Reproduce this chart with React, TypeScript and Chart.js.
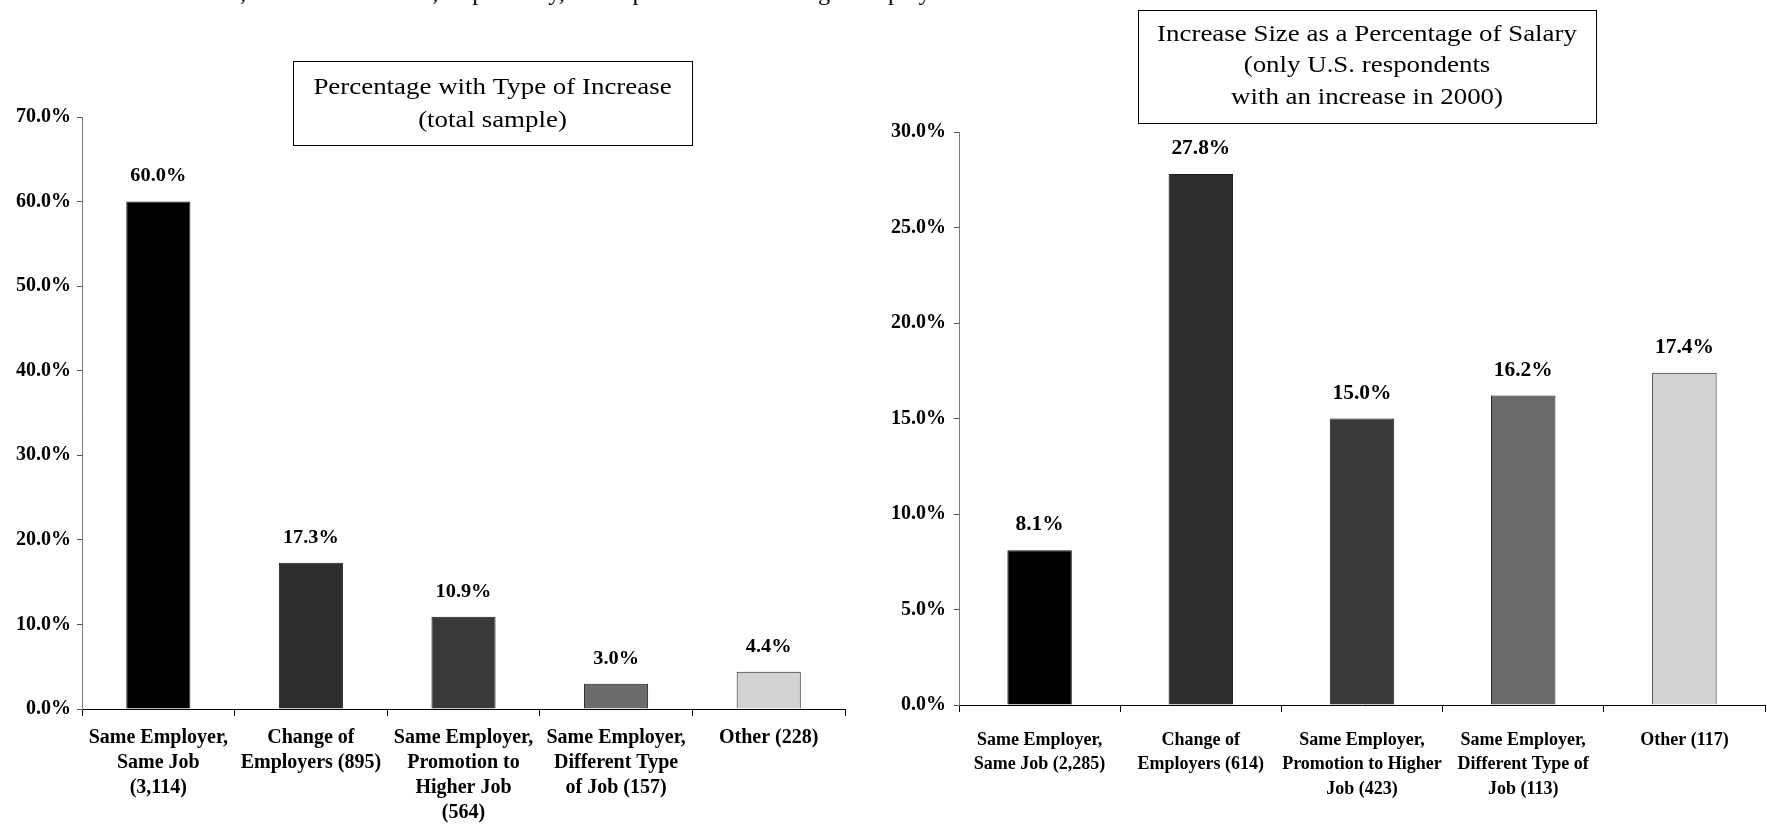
import React, { useEffect, useRef } from "react";
import { Chart, registerables } from "chart.js";

Chart.register(...registerables);

const leftCategories: string[][] = [
  ["Same Employer,", "Same Job", "(3,114)"],
  ["Change of", "Employers (895)"],
  ["Same Employer,", "Promotion to", "Higher Job", "(564)"],
  ["Same Employer,", "Different Type", "of Job (157)"],
  ["Other (228)"],
];
const leftValues: number[] = [60.0, 17.3, 10.9, 3.0, 4.4];
const leftTitle: string[] = ["Percentage with Type of Increase", "(total sample)"];

const rightCategories: string[][] = [
  ["Same Employer,", "Same Job (2,285)"],
  ["Change of", "Employers (614)"],
  ["Same Employer,", "Promotion to Higher", "Job (423)"],
  ["Same Employer,", "Different Type of", "Job (113)"],
  ["Other (117)"],
];
const rightValues: number[] = [8.1, 27.8, 15.0, 16.2, 17.4];
const rightTitle: string[] = [
  "Increase Size as a Percentage of Salary",
  "(only U.S. respondents",
  "with an increase in 2000)",
];

const barColors: string[] = ["#000000", "#2d2d2d", "#3a3a3a", "#6b6b6b", "#d2d2d2"];

const topText =
  "were 4.2% effective, and 5.1% effective, respectively, for respondents who changed employers in 2000.";

const SERIF = "'Liberation Serif', 'Times New Roman', serif";

type BoxOpts = { x: number; y: number; w: number; h: number; lines: string[]; lineYs: number[] };

function stretchedText(ctx: any, text: string, x: number, y: number, sx: number) {
  ctx.save();
  ctx.translate(x, y);
  ctx.scale(sx, 1);
  ctx.fillText(text, 0, 0);
  ctx.restore();
}

function makePlugins(box: BoxOpts, labelOffset: number, labelFont: number) {
  return [
    {
      id: "valueLabels",
      afterDatasetsDraw(chart: any) {
        const ctx = chart.ctx;
        const meta = chart.getDatasetMeta(0);
        const data = chart.data.datasets[0].data as number[];
        ctx.save();
        ctx.font = `bold ${labelFont}px ${SERIF}`;
        ctx.fillStyle = "#000";
        ctx.textAlign = "center";
        ctx.textBaseline = "middle";
        meta.data.forEach((el: any, i: number) => {
          stretchedText(ctx, data[i].toFixed(1) + "%", el.x, el.y - labelOffset, 1.07);
        });
        ctx.restore();
      },
    },
    {
      id: "titleBox",
      afterDraw(chart: any) {
        const ctx = chart.ctx;
        ctx.save();
        ctx.fillStyle = "#fff";
        ctx.fillRect(box.x, box.y, box.w, box.h);
        ctx.strokeStyle = "#000";
        ctx.lineWidth = 1;
        ctx.strokeRect(box.x + 0.5, box.y + 0.5, box.w, box.h);
        ctx.font = `23px ${SERIF}`;
        ctx.fillStyle = "#000";
        ctx.textAlign = "center";
        ctx.textBaseline = "middle";
        box.lines.forEach((l, i) => {
          stretchedText(ctx, l, box.x + box.w / 2, box.lineYs[i], 1.17);
        });
        ctx.restore();
      },
    },
  ];
}

function BarChart(props: {
  left: number;
  width: number;
  height: number;
  categories: string[][];
  values: number[];
  max: number;
  step: number;
  yAxisWidth: number;
  xAxisHeight: number;
  padTop: number;
  padRight: number;
  barPct: number;
  xFont: number;
  xLineHeight: number;
  xPadding: number;
  yFont: number;
  yPadding: number;
  box: BoxOpts;
  labelOffset: number;
  labelFont: number;
}) {
  const ref = useRef<HTMLCanvasElement>(null);
  useEffect(() => {
    if (!ref.current) return;
    const chart = new Chart(ref.current, {
      type: "bar",
      data: {
        labels: props.categories as any,
        datasets: [
          {
            data: props.values,
            backgroundColor: barColors,
            borderColor: "#1a1a1a",
            borderWidth: 1,
            barPercentage: props.barPct,
            categoryPercentage: 1,
          },
        ],
      },
      options: {
        animation: false,
        responsive: true,
        maintainAspectRatio: false,
        layout: { padding: { top: props.padTop, right: props.padRight, left: 0, bottom: 0 } },
        plugins: { legend: { display: false }, tooltip: { enabled: false }, title: { display: false } },
        scales: {
          x: {
            type: "category",
            offset: true,
            grid: {
              offset: true,
              drawOnChartArea: false,
              drawTicks: true,
              tickLength: 7,
              color: "#000",
            },
            border: { color: "#000", width: 1 },
            ticks: {
              autoSkip: false,
              maxRotation: 0,
              minRotation: 0,
              color: "#000",
              padding: props.xPadding,
              font: { family: SERIF, size: props.xFont, weight: "bold", lineHeight: props.xLineHeight },
            },
            afterFit: (s: any) => {
              s.height = props.xAxisHeight;
            },
          },
          y: {
            min: 0,
            max: props.max,
            grid: {
              drawOnChartArea: false,
              drawTicks: true,
              tickLength: 5,
              color: "#555",
            },
            border: { color: "#777", width: 1 },
            ticks: {
              stepSize: props.step,
              color: "#000",
              padding: props.yPadding,
              font: { family: SERIF, size: props.yFont, weight: "bold" },
              callback: (v: any) => Number(v).toFixed(1) + "%",
            },
            afterFit: (s: any) => {
              s.width = props.yAxisWidth;
            },
          },
        },
      },
      plugins: makePlugins(props.box, props.labelOffset, props.labelFont) as any,
    });
    return () => chart.destroy();
  }, []);
  return (
    <div
      style={{
        position: "absolute",
        left: props.left,
        top: 0,
        width: props.width,
        height: props.height,
      }}
    >
      <canvas ref={ref} />
    </div>
  );
}

export default function App() {
  return (
    <div
      style={{
        position: "absolute",
        left: 0,
        top: 0,
        width: 1767,
        height: 826,
        background: "#fff",
        overflow: "hidden",
      }}
    >
      <div
        style={{
          position: "absolute",
          left: 48,
          top: 0,
          height: 10,
          width: 880,
          overflow: "hidden",
        }}
      >
        <div
          style={{
            position: "absolute",
            top: -20,
            left: 0,
            whiteSpace: "nowrap",
            fontFamily: SERIF,
            fontSize: 24,
            lineHeight: "24px",
            color: "#000",
          }}
        >
          {topText}
        </div>
      </div>
      <BarChart
        left={0}
        width={870}
        height={826}
        categories={leftCategories}
        values={leftValues}
        max={70}
        step={10}
        yAxisWidth={82}
        xAxisHeight={117}
        padTop={117}
        padRight={25}
        barPct={0.42}
        xFont={20}
        xLineHeight={1.25}
        xPadding={9}
        yFont={20}
        yPadding={6}
        box={{ x: 293, y: 61, w: 399, h: 84, lines: leftTitle, lineYs: [88, 121] }}
        labelOffset={25}
        labelFont={19}
      />
      <BarChart
        left={880}
        width={887}
        height={826}
        categories={rightCategories}
        values={rightValues}
        max={30}
        step={5}
        yAxisWidth={79}
        xAxisHeight={121}
        padTop={132}
        padRight={2}
        barPct={0.4}
        xFont={18}
        xLineHeight={1.36}
        xPadding={16}
        yFont={20}
        yPadding={8}
        box={{ x: 258, y: 10, w: 458, h: 113, lines: rightTitle, lineYs: [35, 66, 98] }}
        labelOffset={25}
        labelFont={20}
      />
    </div>
  );
}
